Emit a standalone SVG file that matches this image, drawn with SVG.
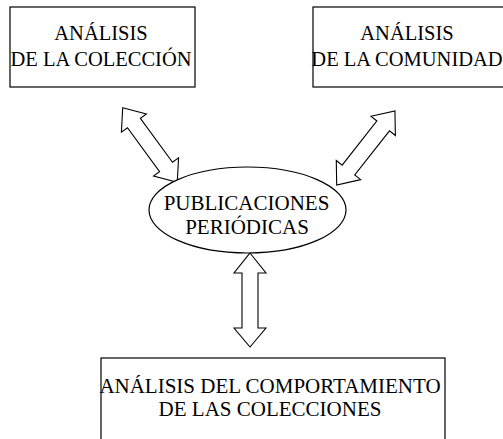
<svg xmlns="http://www.w3.org/2000/svg" width="503" height="439" viewBox="0 0 503 439">
<style>
.box{fill:#fff;stroke:#000;stroke-width:1.2}
.arr{fill:#fff;stroke:#000;stroke-width:1.1;stroke-linejoin:miter}
text{font-family:"Liberation Serif","Times New Roman",serif;font-size:20.5px;fill:#000;text-anchor:middle}
.big{font-size:21px}
</style>
<rect width="503" height="439" fill="#fff"/>
<g id="connectors">
<path class="arr" transform="translate(122.7,107.7) rotate(53.8)" d="M0,0 L19,-15.5 L19,-8 L73.4,-8 L73.4,-15.5 L92.4,0 L73.4,15.5 L73.4,8 L19,8 L19,15.5 Z"/>
<path class="arr" transform="translate(336.7,185) rotate(-51.8)" d="M0,0 L19,-15.5 L19,-8 L75.2,-8 L75.2,-15.5 L94.2,0 L75.2,15.5 L75.2,8 L19,8 L19,15.5 Z"/>
<path class="arr" transform="translate(250,253) rotate(90)" d="M0,0 L20,-16 L20,-8 L75,-8 L75,-16 L94,0 L75,16 L75,8 L20,8 L20,16 Z"/>
</g>
<g id="node-coleccion">
<rect class="box" x="10" y="7" width="185" height="80"/>
<text x="101" y="40">ANÁLISIS</text>
<text x="101" y="66">DE LA COLECCIÓN</text>
</g>
<g id="node-comunidad">
<rect class="box" x="313" y="7" width="200" height="80"/>
<text x="407" y="40">ANÁLISIS</text>
<text x="407" y="66">DE LA COMUNIDAD</text>
</g>
<g id="node-publicaciones">
<ellipse class="box" cx="247.5" cy="210" rx="98.5" ry="43"/>
<text class="big" x="246.5" y="209.5">PUBLICACIONES</text>
<text class="big" x="247" y="234">PERIÓDICAS</text>
</g>
<g id="node-comportamiento">
<rect class="box" x="101" y="358" width="344" height="100"/>
<text class="big" x="270" y="393">ANÁLISIS DEL COMPORTAMIENTO</text>
<text class="big" x="270" y="416">DE LAS COLECCIONES</text>
</g>
</svg>
